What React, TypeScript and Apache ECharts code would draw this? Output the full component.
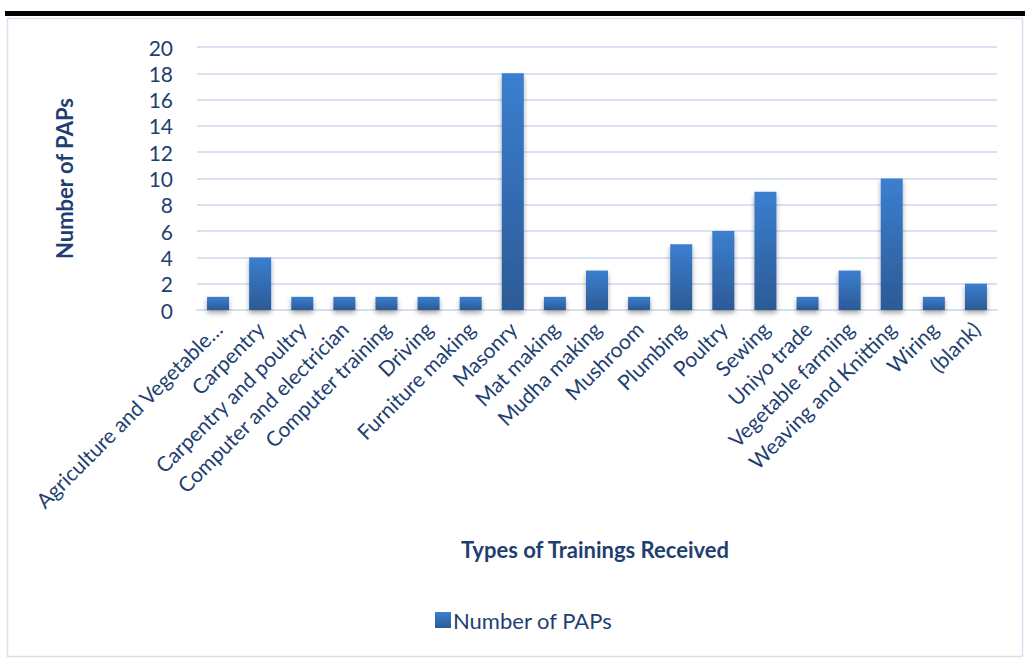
import React, { useEffect, useRef } from "react";
import * as echarts from "echarts";

const categories = [
  "Agriculture and Vegetable…",
  "Carpentry",
  "Carpentry and poultry",
  "Computer and electrician",
  "Computer training",
  "Driving",
  "Furniture making",
  "Masonry",
  "Mat making",
  "Mudha making",
  "Mushroom",
  "Plumbing",
  "Poultry",
  "Sewing",
  "Uniyo trade",
  "Vegetable farming",
  "Weaving and Knitting",
  "Wiring",
  "(blank)",
];
const values = [1, 4, 1, 1, 1, 1, 1, 18, 1, 3, 1, 5, 6, 9, 1, 3, 10, 1, 2];
const seriesName = "Number of PAPs";
const xTitle = "Types of Trainings Received";
const yTitle = "Number of PAPs";

const FONT = "Lato, 'Open Sans', sans-serif";
const TEXT = "#1f3f73";

export default function App() {
  const ref = useRef<HTMLDivElement>(null);
  useEffect(() => {
    if (!ref.current) return;
    const chart = echarts.init(ref.current, undefined, { renderer: "svg" });
    chart.setOption({
      animation: false,
      backgroundColor: "#ffffff",
      textStyle: { fontFamily: FONT },
      graphic: [
        { type: "rect", shape: { x: 5, y: 11, width: 1025, height: 5 }, style: { fill: "#000" } },
        {
          type: "rect",
          shape: { x: 7.5, y: 18.5, width: 1015, height: 638 },
          style: { fill: "none", stroke: "#d6e0ee", lineWidth: 1.5 },
        },
        {
          type: "text",
          x: 595,
          y: 549,
          style: {
            text: xTitle,
            fontFamily: FONT,
            fontSize: 22,
            fontWeight: "bold",
            fill: TEXT,
            align: "center",
            verticalAlign: "middle",
          },
        },
      ],
      legend: {
        data: [{ name: seriesName, icon: "rect" }],
        left: 430,
        top: 604,
        itemWidth: 16,
        itemHeight: 16,
        itemGap: 4,
        textStyle: { fontFamily: FONT, fontSize: 22, color: TEXT, padding: [0, 0, 0, -3] },
      },
      grid: { left: 197, right: 28, top: 47, bottom: 351, containLabel: false },
      xAxis: {
        type: "category",
        data: categories,
        axisLine: { show: true, lineStyle: { color: "#d6e0ee", width: 2 } },
        axisTick: { show: false },
        axisLabel: {
          interval: 0,
          rotate: 45,
          margin: 15,
          fontFamily: FONT,
          fontSize: 21,
          color: TEXT,
        },
      },
      yAxis: {
        type: "value",
        min: 0,
        max: 20,
        interval: 2,
        name: yTitle,
        nameLocation: "middle",
        nameGap: 122,
        nameTextStyle: { fontFamily: FONT, fontSize: 22, fontWeight: "bold", color: TEXT },
        axisLine: { show: false },
        axisTick: { show: false },
        axisLabel: { margin: 24, fontFamily: FONT, fontSize: 21, color: TEXT },
        splitLine: { lineStyle: { color: "#d9e2f1", width: 2 } },
      },
      series: [
        {
          name: seriesName,
          type: "bar",
          data: values,
          barWidth: 22,
          itemStyle: {
            color: new echarts.graphic.LinearGradient(0, 0, 0, 1, [
              { offset: 0, color: "#3b7fd0" },
              { offset: 1, color: "#2c5a96" },
            ]),
            shadowColor: "rgba(0,0,0,0.35)",
            shadowBlur: 5,
            shadowOffsetY: 3,
          },
        },
      ],
    });
    return () => chart.dispose();
  }, []);
  return (
    <div
      ref={ref}
      style={{ position: "fixed", left: 0, top: 0, width: 1025, height: 661 }}
    />
  );
}
